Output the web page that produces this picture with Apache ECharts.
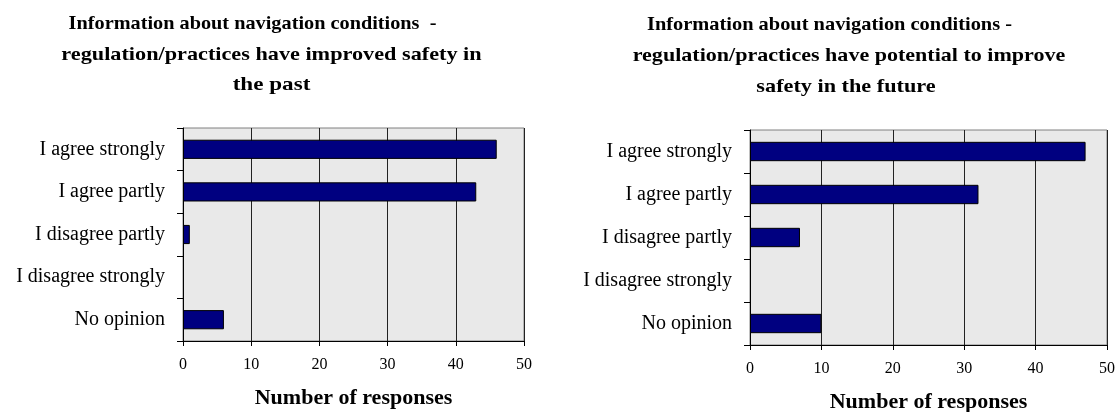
<!DOCTYPE html>
<html>
<head>
<meta charset="utf-8">
<script src="https://cdn.jsdelivr.net/npm/echarts@6/dist/echarts.min.js"></script>
<style>
html,body{margin:0;padding:0;background:#fff;}
#c{width:1116px;height:412px;}
</style>
</head>
<body>
<div id="c"></div>
<script>
const categories = ['I agree strongly', 'I agree partly', 'I disagree partly', 'I disagree strongly', 'No opinion'];
const pastValues = [46, 43, 1, 0, 6];
const futureValues = [47, 32, 7, 0, 10];
const xTicks = [0, 10, 20, 30, 40, 50];
const titleLeftLines = ['Information about navigation conditions  -', 'regulation/practices have improved safety in', 'the past'];
const titleRightLines = ['Information about navigation conditions -', 'regulation/practices have potential to improve', 'safety in the future'];
const axisName = 'Number of responses';

const FONT = 'Liberation Serif';
const chart = echarts.init(document.getElementById('c'));

// one text element per title line: [centre x, centre y, horizontal stretch]
function mkLine(text, cx, cy, sx) {
  return {
    type: 'text', x: cx, y: cy, scaleX: sx, silent: true,
    style: {
      text: text,
      font: 'bold 19px "' + FONT + '"',
      fill: '#000',
      textAlign: 'center',
      textVerticalAlign: 'middle'
    }
  };
}
function mkX(gridIndex, gap) {
  return {
    type: 'value', gridIndex: gridIndex, min: 0, max: 50, interval: 10,
    name: axisName, nameLocation: 'middle', nameGap: gap,
    nameTextStyle: {fontFamily: FONT, fontWeight: 'bold', fontSize: 22, color: '#000'},
    axisLine: {show: true, lineStyle: {color: '#000', width: 1}},
    axisTick: {show: true, length: 5, lineStyle: {color: '#000'}},
    axisLabel: {fontFamily: FONT, fontSize: 16, color: '#000', margin: 16,
      formatter: function (v) { return xTicks.indexOf(v) >= 0 ? String(v) : ''; }},
    splitLine: {show: true, lineStyle: {color: '#222', width: 1}}
  };
}
function mkY(gridIndex) {
  return {
    type: 'category', gridIndex: gridIndex, data: categories, inverse: true,
    axisLine: {show: true, lineStyle: {color: '#000', width: 1}},
    axisTick: {show: true, length: 6, lineStyle: {color: '#000'}},
    axisLabel: {fontFamily: FONT, fontSize: 20, color: '#000', margin: 18},
    splitLine: {show: false}
  };
}
function mkSeries(idx, values) {
  return {
    type: 'bar', xAxisIndex: idx, yAxisIndex: idx,
    data: values.map(function (v) {
      return v === 0 ? {value: v, itemStyle: {borderWidth: 0}} : v;
    }),
    barCategoryGap: '55%',
    itemStyle: {color: '#000080', borderColor: '#000', borderWidth: 1},
    silent: true, animation: false
  };
}

chart.setOption({
  animation: false,
  backgroundColor: '#fff',
  graphic: [
    mkLine(titleLeftLines[0], 252.5, 24.5, 1.067),
    mkLine(titleLeftLines[1], 271.5, 55, 1.17),
    mkLine(titleLeftLines[2], 271.5, 85.5, 1.216),
    mkLine(titleRightLines[0], 829.5, 25, 1.074),
    mkLine(titleRightLines[1], 849, 56.5, 1.16),
    mkLine(titleRightLines[2], 846, 87, 1.17)
  ],
  grid: [
    {left: 183, top: 128, width: 341, height: 213, outerBoundsMode: 'none', containLabel: false, show: true, backgroundColor: '#e9e9e9', borderColor: '#808080', borderWidth: 1},
    {left: 750, top: 130, width: 357, height: 215, outerBoundsMode: 'none', containLabel: false, show: true, backgroundColor: '#e9e9e9', borderColor: '#808080', borderWidth: 1}
  ],
  xAxis: [mkX(0, 46), mkX(1, 46)],
  yAxis: [mkY(0), mkY(1)],
  series: [mkSeries(0, pastValues), mkSeries(1, futureValues)]
});
</script>
</body>
</html>
